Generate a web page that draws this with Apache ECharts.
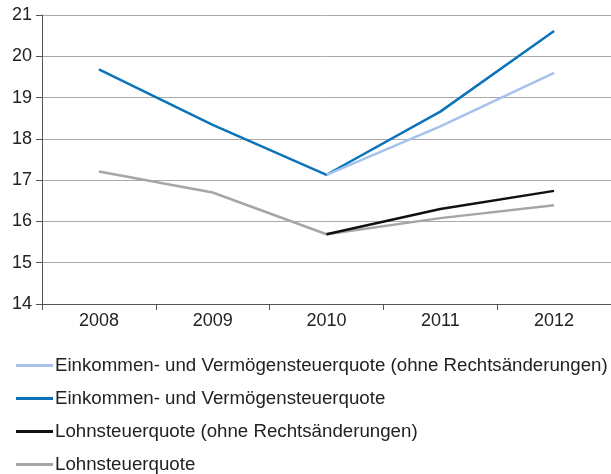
<!DOCTYPE html>
<html><head><meta charset="utf-8">
<script src="https://cdn.jsdelivr.net/npm/echarts@6/dist/echarts.min.js"></script>
<style>html,body{margin:0;padding:0;background:#fff}#c{width:611px;height:474px}</style>
</head><body><div id="c"></div>
<script>
const years = ['2008','2009','2010','2011','2012'];
const einkOhne = [null, null, 17.13, 18.30, 19.60];
const eink = [19.68, 18.34, 17.13, 18.66, 20.61];
const lohnOhne = [null, null, 15.69, 16.30, 16.74];
const lohn = [17.21, 16.70, 15.69, 16.08, 16.39];
const names = [
  'Einkommen- und Vermögensteuerquote (ohne Rechtsänderungen)',
  'Einkommen- und Vermögensteuerquote',
  'Lohnsteuerquote (ohne Rechtsänderungen)',
  'Lohnsteuerquote'
];
const colors = ['#a4c2ea', '#0b74b9', '#111111', '#a6a6a6'];
const datas = [einkOhne, eink, lohnOhne, lohn];
const font = 'Liberation Sans, Arial, Helvetica, sans-serif';
const chart = echarts.init(document.getElementById('c'), null, {renderer: 'canvas'});
chart.setOption({
  animation: false,
  textStyle: {fontFamily: font},
  grid: {left: 42, right: 0, top: 15, bottom: 170, containLabel: false},
  legend: {
    orient: 'vertical', left: 16, top: 356, height: 140, padding: 0, itemGap: 14,
    icon: 'rect', itemWidth: 37, itemHeight: 3,
    textStyle: {fontSize: 18.7, color: '#222', fontFamily: font, lineHeight: 18, padding: [0,0,0,-3]},
    data: names
  },
  xAxis: {
    type: 'category', data: years, boundaryGap: true,
    axisLine: {lineStyle: {color: '#555', width: 1}},
    axisTick: {show: true, interval: 0, length: 6, lineStyle: {color: '#555'}},
    axisLabel: {fontSize: 18, color: '#222', margin: 8, fontFamily: font},
    splitLine: {show: false}
  },
  yAxis: {
    type: 'value', min: 14, max: 21, interval: 1,
    axisLine: {show: true, lineStyle: {color: '#555', width: 1}},
    axisTick: {show: true, length: 6, lineStyle: {color: '#555'}},
    axisLabel: {fontSize: 18, color: '#222', margin: 10, fontFamily: font},
    splitLine: {lineStyle: {color: '#aaaaaa', width: 1}}
  },
  series: names.map((n, i) => ({
    name: n, type: 'line', data: datas[i], showSymbol: false, symbol: 'none',
    connectNulls: false,
    lineStyle: {color: colors[i], width: 2.5},
    itemStyle: {color: colors[i]},
    z: [3, 2, 3, 2][i]
  }))
});
</script></body></html>
